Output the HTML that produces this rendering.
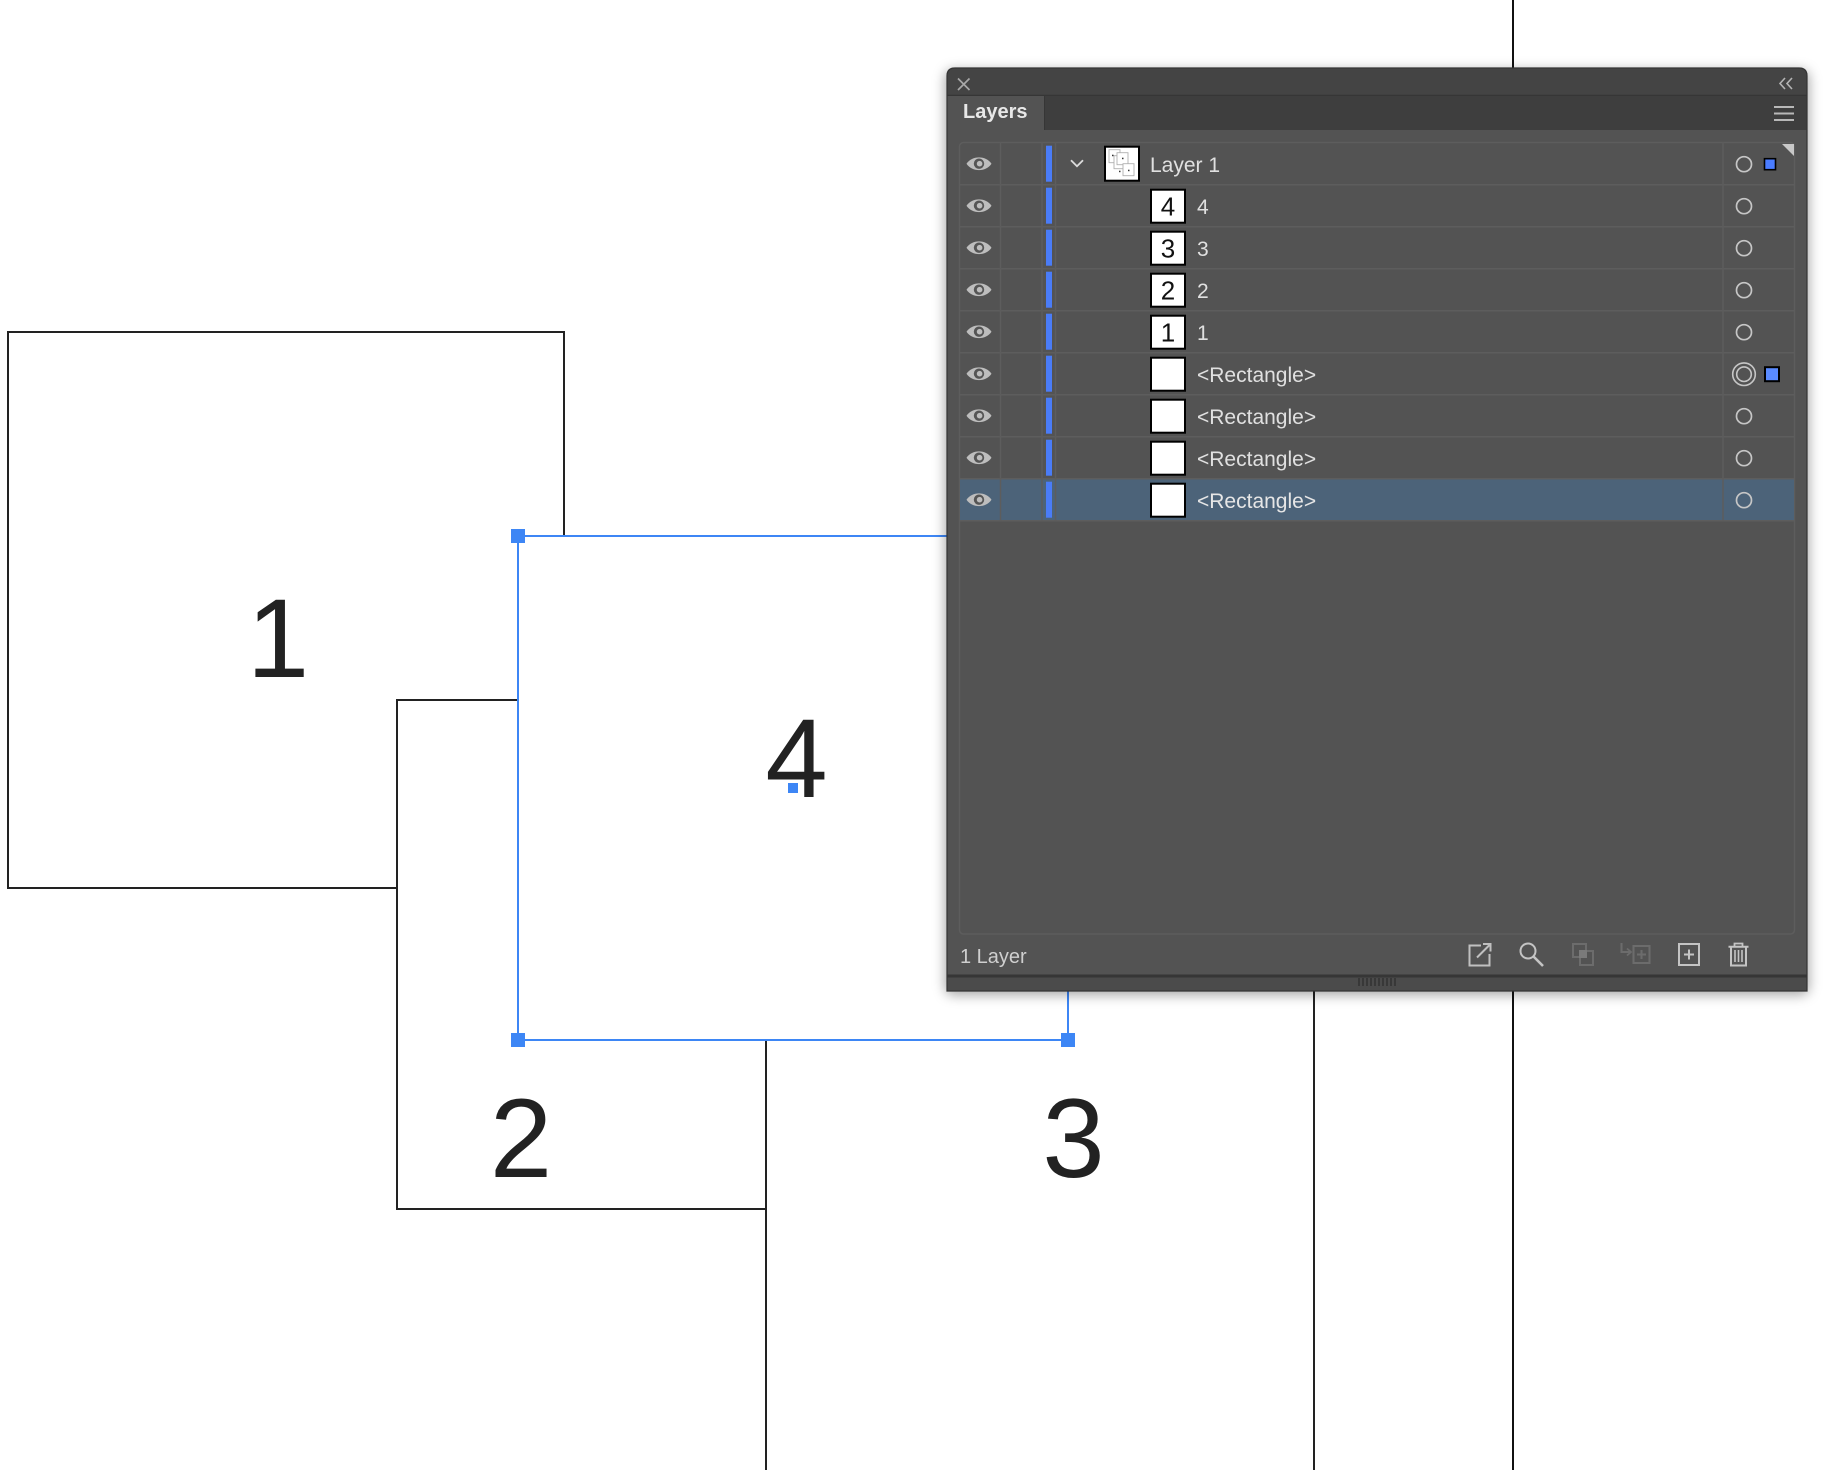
<!DOCTYPE html>
<html>
<head>
<meta charset="utf-8">
<style>
  html, body { margin:0; padding:0; background:#ffffff; }
  body { width:1844px; height:1470px; overflow:hidden; position:relative; }
  svg { display:block; position:absolute; left:0; top:0; }
  text { font-family:"Liberation Sans", Arial, sans-serif; }
</style>
</head>
<body>
<svg width="1844" height="1470" viewBox="0 0 1844 1470" xmlns="http://www.w3.org/2000/svg" overflow="hidden">
  <defs>
    <filter id="sh" x="-10%" y="-10%" width="120%" height="120%">
      <feGaussianBlur stdDeviation="6"/>
    </filter>
    <g id="eye">
      <path d="M-12.5 0 C-7 -8.5 7 -8.5 12.5 0 C7 8.5 -7 8.5 -12.5 0Z" fill="#bdbdbd"/>
      <circle r="5.2" fill="#555555"/>
      <circle r="2.8" cx="0.6" fill="#bdbdbd"/>
    </g>
    <g id="rowbase">
      <line x1="959" y1="42" x2="1795" y2="42" stroke="#5d5d5d" stroke-width="1.5"/>
      <line x1="1000.5" y1="0" x2="1000.5" y2="42" stroke="#5d5d5d" stroke-width="1.5"/>
      <line x1="1042" y1="0" x2="1042" y2="42" stroke="#5d5d5d" stroke-width="1.5"/>
      <line x1="1055.5" y1="0" x2="1055.5" y2="42" stroke="#5d5d5d" stroke-width="1.5"/>
      <line x1="1723" y1="0" x2="1723" y2="42" stroke="#5d5d5d" stroke-width="1.5"/>
      <use href="#eye" x="979" y="21"/>
      <rect x="1046" y="3" width="6" height="36" fill="#4a7cf7"/>
    </g>
    <g id="circ">
      <circle cx="1744" cy="21.5" r="7.5" fill="none" stroke="#c6c6c6" stroke-width="1.7"/>
    </g>
    <g id="thumb">
      <rect x="1151" y="5" width="34" height="33" fill="#ffffff" stroke="#000" stroke-width="2"/>
    </g>
  </defs>

  <!-- ============ CANVAS ============ -->
  <line x1="1513" y1="0" x2="1513" y2="1470" stroke="#111" stroke-width="2"/>

  <!-- rect 1 -->
  <rect x="8" y="332" width="556" height="556" fill="#fff" stroke="#222" stroke-width="2"/>
  <!-- rect 2 -->
  <rect x="397" y="700" width="369" height="509" fill="#fff" stroke="#222" stroke-width="2"/>
  <!-- rect 3 (extends past bottom) -->
  <rect x="766" y="600" width="548" height="870" fill="#fff"/>
  <path d="M766 1470 V600 H1314 V1470" fill="none" stroke="#222" stroke-width="2"/>
  <!-- rect 4 (selected) -->
  <rect x="518" y="536" width="550" height="504" fill="#fff" stroke="#3d86f5" stroke-width="2"/>

  <!-- digits -->
  <text x="278" y="677" font-size="112" fill="#222" text-anchor="middle">1</text>
  <text x="521" y="1177" font-size="112" fill="#222" text-anchor="middle">2</text>
  <text x="1073.5" y="1177" font-size="112" fill="#222" text-anchor="middle">3</text>
  <text x="796.5" y="797" font-size="112" fill="#222" text-anchor="middle">4</text>

  <!-- selection handles -->
  <rect x="511" y="529" width="14" height="14" fill="#3d86f5"/>
  <rect x="511" y="1033" width="14" height="14" fill="#3d86f5"/>
  <rect x="1061" y="1033" width="14" height="14" fill="#3d86f5"/>
  <rect x="1061" y="529" width="14" height="14" fill="#3d86f5"/>
  <rect x="788" y="783" width="10" height="10" fill="#3d86f5"/>

  <!-- ============ PANEL ============ -->
  <rect x="945" y="70" width="864" height="925" rx="8" fill="rgba(0,0,0,0.35)" filter="url(#sh)"/>
  <path d="M955 68 H1799 Q1807 68 1807 76 V991 H947 V76 Q947 68 955 68 Z" fill="#535353" stroke="#333" stroke-width="1"/>
  <!-- header -->
  <path d="M955 68.5 H1799 Q1806.5 68.5 1806.5 76 V95 H947.5 V76 Q947.5 68.5 955 68.5 Z" fill="#444444"/>
  <line x1="947.5" y1="95.5" x2="1806.5" y2="95.5" stroke="#363636" stroke-width="1.5"/>
  <!-- tab strip -->
  <rect x="947.5" y="96" width="859" height="34" fill="#3e3e3e"/>
  <rect x="947.5" y="96" width="97" height="34.5" fill="#535353"/>
  <line x1="1044.5" y1="96" x2="1044.5" y2="130" stroke="#363636" stroke-width="1"/>
  <text x="963" y="118" font-size="20" font-weight="bold" fill="#e8e8e8">Layers</text>

  <!-- close X -->
  <path d="M958 78.5 L969.5 90 M969.5 78.5 L958 90" stroke="#a8a8a8" stroke-width="1.7" fill="none"/>
  <!-- collapse << -->
  <path d="M1785 78 L1780 83.5 L1785 89 M1792 78 L1787 83.5 L1792 89" stroke="#b4b4b4" stroke-width="1.6" fill="none"/>
  <!-- hamburger -->
  <path d="M1774 107 H1794 M1774 113.5 H1794 M1774 120 H1794" stroke="#b8b8b8" stroke-width="2"/>

  <!-- list box -->
  <rect x="959.5" y="142.5" width="835" height="791.5" rx="4" fill="#535353" stroke="#5d5d5d" stroke-width="1.5"/>

  <!-- selected row bg -->
  <rect x="960" y="478.7" width="834" height="42" fill="#4c6379"/>

  <!-- rows -->
  <g transform="translate(0,142.7)">
    <use href="#rowbase"/><use href="#circ"/>
    <path d="M1071 17.5 L1077 23.5 L1083 17.5" stroke="#dcdcdc" stroke-width="1.8" fill="none"/>
    <rect x="1105" y="4" width="34" height="34" fill="#fff" stroke="#000" stroke-width="2"/>
    <rect x="1109" y="7" width="11" height="13" fill="none" stroke="#b0b0b0" stroke-width="0.9"/>
    <rect x="1114" y="13" width="12" height="13" fill="#fff" stroke="#b0b0b0" stroke-width="0.9"/>
    <rect x="1117" y="10" width="11" height="12" fill="#fff" stroke="#b0b0b0" stroke-width="0.9"/>
    <rect x="1123" y="21" width="11" height="12" fill="#fff" stroke="#b0b0b0" stroke-width="0.9"/>
    <rect x="1112" y="12" width="1.5" height="1.5" fill="#333"/>
    <rect x="1122" y="15" width="1.5" height="1.5" fill="#333"/>
    <rect x="1119" y="28" width="1.5" height="1.5" fill="#333"/>
    <rect x="1128" y="27" width="1.5" height="1.5" fill="#333"/>
    <text x="1150" y="29.5" font-size="21" fill="#e0e0e0">Layer 1</text>
    <rect x="1764.5" y="16" width="11" height="11" fill="#4a7cff" stroke="#000" stroke-width="1.6"/>
    <path d="M1782 1.3 H1794 V13.3 Z" fill="#c8c8c8"/>
  </g>
  <g transform="translate(0,184.7)">
    <use href="#rowbase"/><use href="#circ"/><use href="#thumb"/>
    <text x="1168" y="31" font-size="26" fill="#111" text-anchor="middle">4</text>
    <text x="1197" y="29.5" font-size="21" fill="#e0e0e0">4</text>
  </g>
  <g transform="translate(0,226.7)">
    <use href="#rowbase"/><use href="#circ"/><use href="#thumb"/>
    <text x="1168" y="31" font-size="26" fill="#111" text-anchor="middle">3</text>
    <text x="1197" y="29.5" font-size="21" fill="#e0e0e0">3</text>
  </g>
  <g transform="translate(0,268.7)">
    <use href="#rowbase"/><use href="#circ"/><use href="#thumb"/>
    <text x="1168" y="31" font-size="26" fill="#111" text-anchor="middle">2</text>
    <text x="1197" y="29.5" font-size="21" fill="#e0e0e0">2</text>
  </g>
  <g transform="translate(0,310.7)">
    <use href="#rowbase"/><use href="#circ"/><use href="#thumb"/>
    <text x="1168" y="31" font-size="26" fill="#111" text-anchor="middle">1</text>
    <text x="1197" y="29.5" font-size="21" fill="#e0e0e0">1</text>
  </g>
  <g transform="translate(0,352.7)">
    <use href="#rowbase"/><use href="#thumb"/>
    <circle cx="1744" cy="21.5" r="11.3" fill="none" stroke="#c6c6c6" stroke-width="1.6"/>
    <circle cx="1744" cy="21.5" r="7.3" fill="none" stroke="#c6c6c6" stroke-width="1.6"/>
    <rect x="1765" y="14.5" width="14" height="14" fill="#5a8bff" stroke="#000" stroke-width="2"/>
    <text x="1197" y="29.5" font-size="21" fill="#e0e0e0">&lt;Rectangle&gt;</text>
  </g>
  <g transform="translate(0,394.7)">
    <use href="#rowbase"/><use href="#circ"/><use href="#thumb"/>
    <text x="1197" y="29.5" font-size="21" fill="#e0e0e0">&lt;Rectangle&gt;</text>
  </g>
  <g transform="translate(0,436.7)">
    <use href="#rowbase"/><use href="#circ"/><use href="#thumb"/>
    <text x="1197" y="29.5" font-size="21" fill="#e0e0e0">&lt;Rectangle&gt;</text>
  </g>
  <g transform="translate(0,478.7)">
    <use href="#rowbase"/><use href="#circ"/><use href="#thumb"/>
    <text x="1197" y="29.5" font-size="21" fill="#e6e6e6">&lt;Rectangle&gt;</text>
  </g>

  <!-- footer -->
  <text x="960" y="963" font-size="20" fill="#cfcfcf">1 Layer</text>

  <!-- export icon -->
  <path d="M1481 945.5 H1469.5 V965.5 H1489.5 V954" stroke="#c0c0c0" stroke-width="2" fill="none"/>
  <path d="M1477 957.5 L1490.5 944 M1483 944 H1490.5 V951.5" stroke="#c0c0c0" stroke-width="2" fill="none"/>
  <!-- search -->
  <circle cx="1528" cy="951" r="7.5" stroke="#c4c4c4" stroke-width="2" fill="none"/>
  <line x1="1533.5" y1="956.5" x2="1543" y2="966" stroke="#c4c4c4" stroke-width="2.6"/>
  <!-- disabled duplicate -->
  <rect x="1573" y="944" width="13" height="13" fill="none" stroke="#6c6c6c" stroke-width="2"/>
  <rect x="1580" y="951" width="13" height="14" fill="none" stroke="#6c6c6c" stroke-width="2"/>
  <rect x="1579" y="950" width="8" height="8" fill="#7a7a7a"/>
  <!-- disabled move -->
  <path d="M1621.5 943 V952 H1630" stroke="#6c6c6c" stroke-width="2" fill="none"/>
  <path d="M1627 948.5 L1631 952 L1627 955.5" stroke="#6c6c6c" stroke-width="1.8" fill="none"/>
  <rect x="1633.5" y="946" width="16" height="17" fill="none" stroke="#6c6c6c" stroke-width="2"/>
  <path d="M1641.5 950 V959 M1637 954.5 H1646" stroke="#6c6c6c" stroke-width="2"/>
  <!-- new layer -->
  <rect x="1679" y="944" width="20" height="21" fill="none" stroke="#c4c4c4" stroke-width="2"/>
  <path d="M1689 949.5 V959.5 M1684 954.5 H1694" stroke="#c4c4c4" stroke-width="2"/>
  <!-- trash -->
  <path d="M1734.5 946 V943.5 H1742.5 V946" stroke="#c4c4c4" stroke-width="1.8" fill="none"/>
  <path d="M1728.5 946.8 H1748.5" stroke="#c4c4c4" stroke-width="2"/>
  <path d="M1731 947 V965.5 H1746 V947" stroke="#c4c4c4" stroke-width="2" fill="none"/>
  <path d="M1735 950 V962 M1738.5 950 V962 M1742 950 V962" stroke="#c4c4c4" stroke-width="1.6"/>

  <!-- bottom bar -->
  <rect x="947.5" y="974.5" width="859" height="3" fill="#363636"/>
  <rect x="947.5" y="977.5" width="859" height="13" fill="#4b4b4b"/>
  <g fill="#383838">
    <rect x="1358" y="978" width="2" height="8"/>
    <rect x="1362" y="978" width="2" height="8"/>
    <rect x="1366" y="978" width="2" height="8"/>
    <rect x="1370" y="978" width="2" height="8"/>
    <rect x="1374" y="978" width="2" height="8"/>
    <rect x="1378" y="978" width="2" height="8"/>
    <rect x="1382" y="978" width="2" height="8"/>
    <rect x="1386" y="978" width="2" height="8"/>
    <rect x="1390" y="978" width="2" height="8"/>
    <rect x="1394" y="978" width="2" height="8"/>
  </g>
  <path d="M947 76 Q947 68 955 68 H1799 Q1807 68 1807 76 V991 H947 Z" fill="none" stroke="#353535" stroke-width="1.2"/>
</svg>
</body>
</html>
